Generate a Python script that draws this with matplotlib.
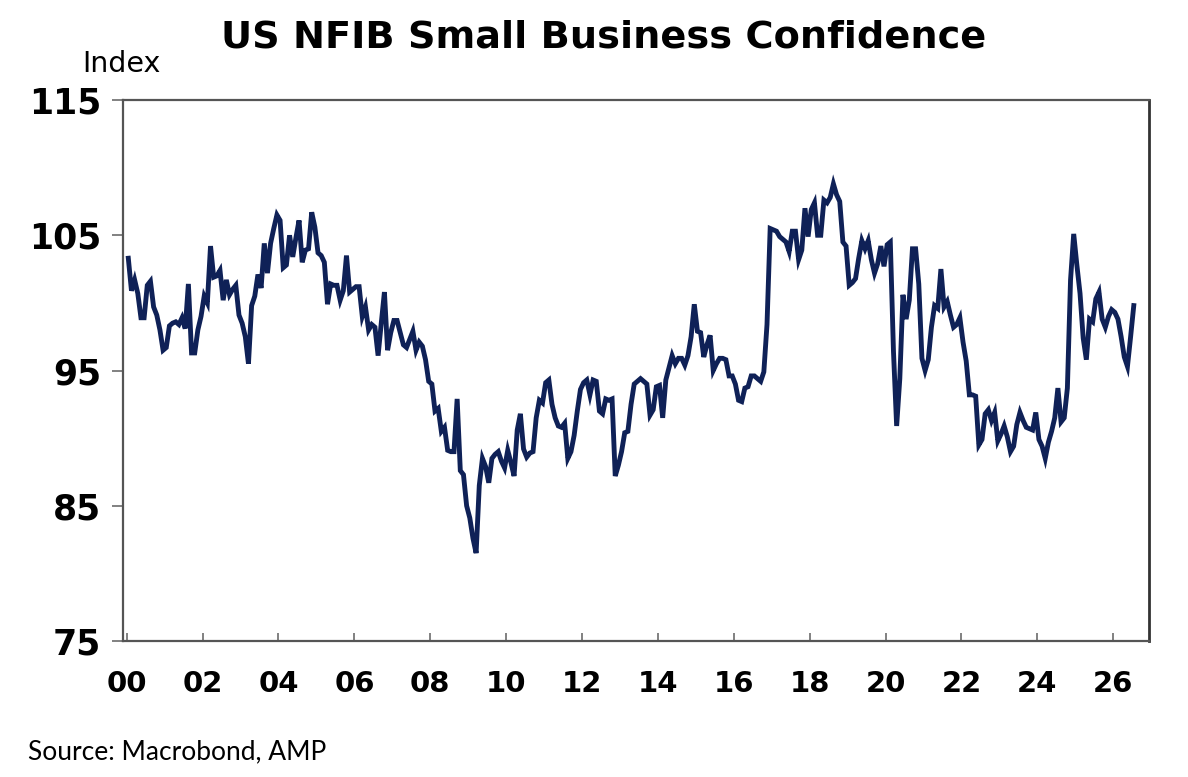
import numpy as np
import matplotlib
matplotlib.use("Agg")
import matplotlib.pyplot as plt

# NFIB small business optimism index, monthly, Jan 2000 onwards
values_2000s = [
    103.3, 100.9, 101.7, 100.7, 98.9, 98.9, 101.3, 101.6, 99.7, 99.1, 98.0, 96.5,
    96.7, 98.3, 98.5, 98.6, 98.4, 98.9, 98.1, 101.4, 96.3, 96.3, 98.0, 99.0,
    100.5, 100.0, 104.2, 101.9, 102.0, 102.4, 100.2, 101.7, 100.6, 101.0, 101.3, 99.1,
    98.5, 97.5, 95.5, 99.8, 100.5, 102.1, 101.1, 104.4, 102.2, 104.4, 105.5, 106.5,
    106.1, 102.6, 102.8, 105.0, 103.4, 104.8, 106.1, 103.0, 103.9, 104.0, 106.7, 105.6,
    103.7, 103.5, 103.0, 99.9, 101.4, 101.3, 101.3, 100.2, 100.9, 103.5, 100.8, 101.0,
    101.2, 101.2, 99.0, 99.7, 98.0, 98.4, 98.2, 96.1, 98.5, 100.8, 96.5, 97.8,
    98.7, 98.7, 97.8, 96.9, 96.7, 97.3, 97.9, 96.5, 97.1, 96.8, 95.8, 94.2,
    94.0, 92.0, 92.2, 90.5, 90.8, 89.1, 89.0, 89.0, 92.9, 87.6, 87.3, 85.0,
    84.1, 82.6, 81.5, 86.5, 88.5, 87.9, 86.7, 88.5, 88.8, 89.0, 88.3, 87.8,
]
values_2010s = [
    89.1, 88.2, 87.2, 90.6, 91.8, 89.2, 88.6, 88.9, 89.0, 91.5, 92.8, 92.6,
    94.1, 94.3, 92.5, 91.5, 90.9, 90.8, 91.1, 88.5, 89.0, 90.2, 92.0, 93.6,
    94.1, 94.3, 93.2, 94.3, 94.2, 92.0, 91.8, 92.9, 92.8, 92.9, 87.2, 88.0,
    89.0, 90.4, 90.5, 92.5, 94.0, 94.2, 94.4, 94.2, 94.0, 91.7, 92.1, 93.8,
    93.9, 91.5, 94.3, 95.2, 96.1, 95.5, 95.9, 95.9, 95.4, 96.1, 97.5, 99.9,
    97.9, 97.8, 96.0, 96.9, 97.6, 95.0, 95.5, 95.9, 95.9, 95.8, 94.6, 94.6,
    94.0, 92.8, 92.7, 93.7, 93.8, 94.6, 94.6, 94.4, 94.2, 94.9, 98.4, 105.5,
    105.4, 105.3, 104.9, 104.7, 104.5, 103.8, 105.3, 105.3, 103.2, 103.9, 107.0, 104.9,
    106.9, 107.4, 105.0, 105.0, 107.6, 107.4, 107.8, 108.8, 108.0, 107.5, 104.5, 104.2,
    101.3, 101.5, 101.8, 103.3, 104.6, 104.0, 104.6, 103.2, 102.2, 102.9, 104.2, 102.7,
]
values_2020s = [
    104.3, 104.5, 96.4, 90.9, 94.4, 100.6, 98.8, 100.2, 104.0, 104.0, 101.4, 95.9,
    95.0, 95.8, 98.2, 99.8, 99.6, 102.5, 99.7, 100.1, 99.1, 98.2, 98.4, 98.9,
    97.1, 95.7, 93.2, 93.2, 93.1, 89.5, 89.9, 91.8, 92.1, 91.3, 91.9, 89.8,
    90.3, 90.9, 90.1, 89.0, 89.4, 91.0, 91.9, 91.3, 90.8, 90.7, 90.6, 91.9,
    89.9, 89.4, 88.5, 89.7, 90.5, 91.5, 93.7, 91.2, 91.5, 93.7, 101.7, 105.1,
    102.8, 100.7, 97.4, 95.8, 98.8, 98.6, 100.3, 100.8, 98.8, 98.2, 99.0, 99.5,
    99.3, 98.8, 97.5, 96.0, 95.3, 97.5, 99.8,
]

start_year = 2000
year_ticks = list(range(2000, 2027, 2))
year_labels = ["%02d" % (y % 100) for y in year_ticks]
y_ticks = [75, 85, 95, 105, 115]

values = np.array(values_2000s + values_2010s + values_2020s)
# plot each month at its mid point
dates = start_year + (np.arange(len(values)) + 0.5) / 12.0

fig = plt.figure(figsize=(11.88, 7.77), dpi=100)
ax = fig.add_axes([0.1038, 0.175, 0.8636, 0.6963])

ax.plot(dates, values, color="#0f2157", lw=3.5, solid_joinstyle="miter")

ax.set_xlim(1999.91, 2026.95)
ax.set_ylim(75, 115)
ax.set_xticks(year_ticks)
ax.set_xticklabels(year_labels)
ax.set_yticks(y_ticks)

for side in ["left", "top", "bottom"]:
    ax.spines[side].set_color("#555555")
    ax.spines[side].set_linewidth(1.6)
ax.spines["right"].set_color("#333333")
ax.spines["right"].set_linewidth(2.0)

ax.tick_params(axis="x", direction="in", length=6, width=1.3, color="#777777",
               pad=21, labelsize=21)
ax.tick_params(axis="y", direction="out", length=8, width=1.3, color="#777777",
               pad=8, labelsize=25)
for lab in ax.get_xticklabels() + ax.get_yticklabels():
    lab.set_fontweight("bold")
    lab.set_family("DejaVu Sans")

fig.text(0.5084, 0.9395, "US NFIB Small Business Confidence", ha="center",
         va="baseline", fontsize=27.5, fontweight="bold", family="DejaVu Sans")
fig.text(0.069, 0.9077, "Index", ha="left", va="baseline", fontsize=20.5,
         family="DejaVu Sans")
fig.text(0.0236, 0.0232, "Source: Macrobond, AMP", ha="left", va="baseline",
         fontsize=19, family="Lato")

fig.savefig("out.png", dpi=100, facecolor="white")
